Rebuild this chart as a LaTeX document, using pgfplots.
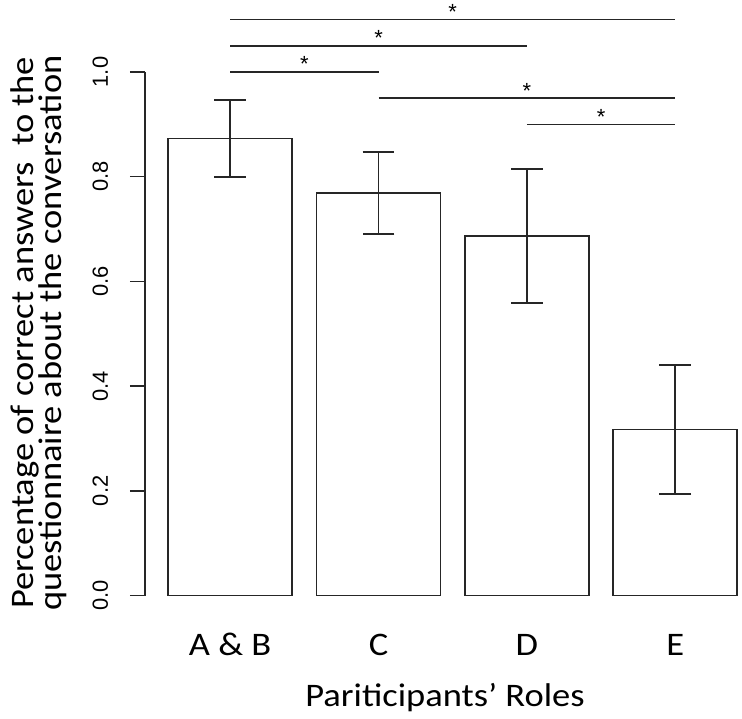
\documentclass[border=0pt]{standalone}
\usepackage{pgfplots}
\pgfplotsset{compat=1.18}
\usepackage{fontspec}
\setmainfont{Carlito}[FakeStretch=1.11]
\newfontfamily\tickfont{Liberation Sans}
\pgfplotstableread{
x y err
0 0.873 0.074
1 0.769 0.078
2 0.687 0.128
3 0.317 0.123
}\bars
\begin{document}
\begin{tikzpicture}
\begin{axis}[
  at={(0,0)}, anchor=south west,
  scale only axis, width=596bp, height=591.6bp,
  xmin=-0.574, xmax=3.443, ymin=0, ymax=1.13,
  axis line style={draw=none},
  clip=false,
  xtick={0,1,2,3}, xticklabels={A \& B, C, D, E},
  xtick style={draw=none},
  xticklabel style={font=\fontsize{33}{36}\selectfont, anchor=base, inner sep=0pt, yshift=-45bp},
  ytick={0,0.2,0.4,0.6,0.8,1.0},
  ytick pos=left,
  ytick style={black!85, line width=1.6bp},
  major tick length=15bp, tick align=outside,
  yticklabel style={font=\tickfont\fontsize{22}{26}\selectfont, xshift=-22bp, rotate=90, anchor=base, inner sep=0pt},
  /pgf/number format/fixed, /pgf/number format/fixed zerofill, /pgf/number format/precision=1,
  /pgf/number format/assume math mode=true,
  xlabel={Pariticipants’ Roles},
  xlabel style={at={(axis description cs:0.5,0)}, anchor=base, inner sep=0pt, yshift=-111bp, xshift=2bp, font=\fontsize{33}{36}\selectfont},
  ylabel={Percentage of correct answers\ \ to the\\questionnaire about the conversation},
  ylabel style={at={(axis description cs:-0.2265,0.4437)}, anchor=north, inner sep=0pt, align=center, font=\fontsize{33}{29}\selectfont},
]
\addplot[ybar, bar width=124bp, bar shift=0pt, fill=white, draw=black!85, line width=1.6bp,
  error bars/.cd, y dir=both, y explicit,
  error bar style={line width=1.6bp, black!85},
  error mark options={rotate=90, mark size=15.8bp, line width=1.6bp, black!85}]
  table[x=x, y=y, y error=err] {\bars};
% y axis line
\draw[black!85, line width=1.6bp] (axis cs:-0.574,0) -- (axis cs:-0.574,1);
% significance brackets
\addplot[black!85, line width=1.6bp, mark=none] coordinates {(0,1.10) (3,1.10)};
\addplot[black!85, line width=1.6bp, mark=none] coordinates {(0,1.05) (2,1.05)};
\addplot[black!85, line width=1.6bp, mark=none] coordinates {(0,1.00) (1,1.00)};
\addplot[black!85, line width=1.6bp, mark=none] coordinates {(1,0.95) (3,0.95)};
\addplot[black!85, line width=1.6bp, mark=none] coordinates {(2,0.90) (3,0.90)};
\node[font=\tickfont\fontsize{22}{26}\selectfont, anchor=base] at (axis cs:1.5,1.10) {*};
\node[font=\tickfont\fontsize{22}{26}\selectfont, anchor=base] at (axis cs:1.0,1.05) {*};
\node[font=\tickfont\fontsize{22}{26}\selectfont, anchor=base] at (axis cs:0.5,1.00) {*};
\node[font=\tickfont\fontsize{22}{26}\selectfont, anchor=base] at (axis cs:2.0,0.95) {*};
\node[font=\tickfont\fontsize{22}{26}\selectfont, anchor=base] at (axis cs:2.5,0.90) {*};
\end{axis}
\pgfresetboundingbox
\path[use as bounding box] (-145bp,-123.5bp) rectangle (597bp,595.5bp);
\end{tikzpicture}
\end{document}
